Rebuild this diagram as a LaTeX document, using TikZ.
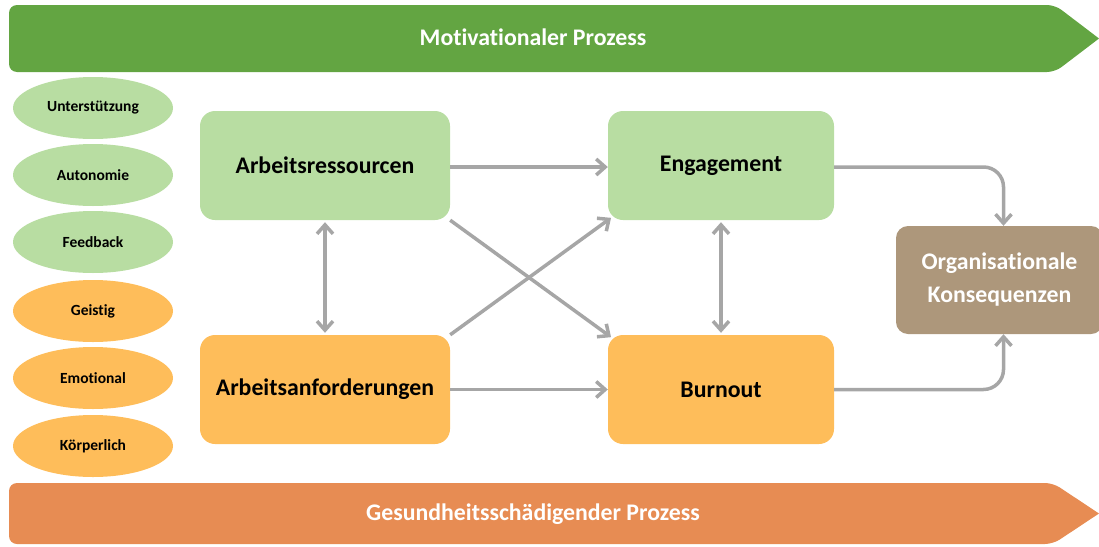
\documentclass[tikz,border=0pt]{standalone}
\usepackage{fontspec}
\setmainfont{Carlito}[Ligatures=NoCommon]
\usetikzlibrary{arrows.meta,backgrounds,shapes.geometric}

\definecolor{bannergreen}{HTML}{63A542}
\definecolor{bannerorange}{HTML}{E78C53}
\definecolor{lightgreen}{HTML}{B8DDA2}
\definecolor{lightorange}{HTML}{FEBD5A}
\definecolor{brownbox}{HTML}{AD977B}
\definecolor{arrowgray}{HTML}{A6A6A6}

\tikzset{
  factor/.style={ellipse, minimum width=160pt, minimum height=62pt, inner sep=0pt,
                 font=\bfseries\fontsize{15.5}{18}\selectfont, text=black},
  resource/.style={factor, fill=lightgreen},
  demand/.style={factor, fill=lightorange},
  mainbox/.style={rectangle, rounded corners=15pt, minimum height=109pt, inner sep=0pt,
                  font=\bfseries\fontsize{23.8}{28}\selectfont, text=black},
  barb/.tip={Straight Barb[length=9pt,width=16pt]},
  flow/.style={draw=arrowgray, line width=3.5pt, -barb},
  twoway/.style={draw=arrowgray, line width=3.5pt, barb-barb},
  bannertext/.style={font=\bfseries\fontsize{23.8}{28}\selectfont, text=white}
}

\begin{document}
\begin{tikzpicture}[x=1pt,y=-1pt]
\useasboundingbox (0,0) rectangle (1099,546);

% process banners
\fill[bannergreen] (1099,38.5) [rounded corners=8pt] -- (1055,5) -- (9,5) -- (9,72) -- (1055,72) [sharp corners] -- cycle;
\node[bannertext] (motiv) at (533,37) {Motivationaler Prozess};

\fill[bannerorange] (1099,513.5) [rounded corners=8pt] -- (1053,483) -- (9,483) -- (9,544) -- (1053,544) [sharp corners] -- cycle;
\node[bannertext] (gesund) at (533,514) {Gesundheitsschädigender Prozess};

% examples of resources and demands
\node[resource] (unter) at (93,108) {Unterstützung};
\node[resource] (auto)  at (93,175) {Autonomie};
\node[resource] (feed)  at (93,242) {Feedback};
\node[demand]   (geist) at (93,311) {Geistig};
\node[demand]   (emot)  at (93,378) {Emotional};
\node[demand]   (koerp) at (93,446) {Körperlich};

% main model
\node[mainbox, fill=lightgreen, minimum width=250pt] (ar) at (325,165.5) {Arbeitsressourcen};
\node[mainbox, fill=lightorange, minimum width=250pt] (aa) at (325,389.5) {Arbeitsanforderungen};
\node[mainbox, fill=lightgreen, minimum width=226pt] (eng) at (721,165.5) {Engagement};
\node[mainbox, fill=lightorange, minimum width=226pt] (bo) at (721,389.5) {Burnout};
\node[rectangle, rounded corners=12pt, fill=brownbox, minimum width=207pt, minimum height=108pt,
      inner sep=0pt, align=center, text=white, font=\bfseries\fontsize{23.8}{33}\selectfont]
      (org) at (999.5,280) {Organisationale\\Konsequenzen};

% connectors
\begin{scope}[on background layer]
  \draw[flow, shorten >=-4pt] (ar.south east) -- (bo.north west);
  \draw[flow, shorten >=-4pt] (aa.north east) -- (eng.south west);
\end{scope}
\draw[flow] ([yshift=-1.5pt]ar.east) -- ([yshift=-1.5pt]eng.west);
\draw[flow] (aa.east) -- (bo.west);
\draw[twoway, shorten <=2pt, shorten >=2pt] (ar.south) -- (aa.north);
\draw[twoway, shorten <=2pt, shorten >=2pt] (eng.south) -- (bo.north);
\draw[flow, rounded corners=20pt] ([yshift=-1.5pt]eng.east) -| ([xshift=4pt]org.north);
\draw[flow, rounded corners=20pt] (bo.east) -| ([xshift=4pt]org.south);
\end{tikzpicture}
\end{document}
